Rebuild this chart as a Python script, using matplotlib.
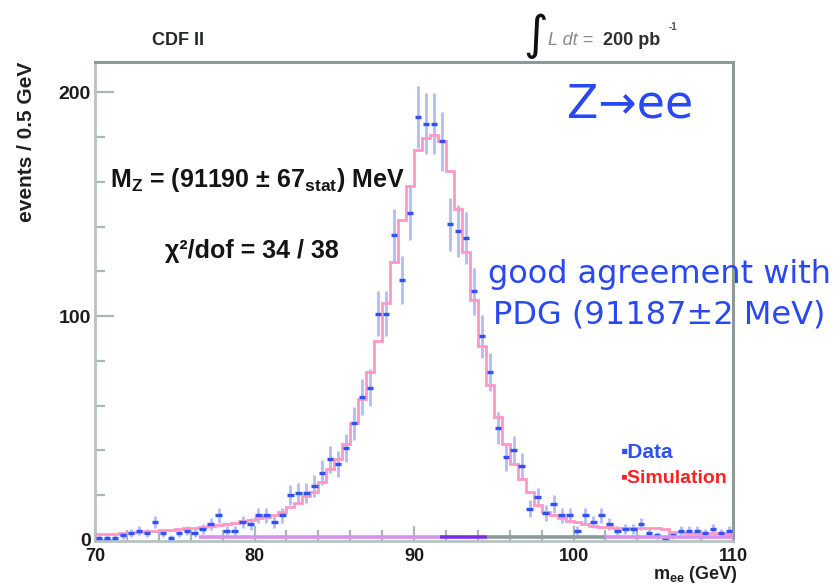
import numpy as np
import matplotlib
matplotlib.use("Agg")
import matplotlib.pyplot as plt
from matplotlib.ticker import MultipleLocator

# --- data (0.5 GeV bins, 70-110 GeV) ---
mass_edges = np.linspace(70.0, 110.0, 81)

sim_counts = [2.5, 2.7, 2.8, 3.0, 3.2, 3.5, 3.8, 4.0, 4.2, 4.4,
              4.8, 5.2, 5.5, 5.8, 6.2, 6.6, 7.0, 7.6, 8.3, 9.0,
              9.6, 10.3, 11.2, 12.5, 14.7, 16.5, 19.6, 21.4, 25.9, 31.7,
              36, 43, 52, 63, 75, 89, 106, 124, 143, 158,
              174, 179.5, 181, 178, 165, 148, 128.6, 107, 86.6, 69,
              55, 43, 34, 27, 21.4, 15.6, 12.5, 11, 9.8, 8.5,
              8.0, 7.0, 6.3, 5.8, 5.6, 5.5, 5.4, 5.4, 5.3, 5.2,
              5.1, 5.0, 3.4, 3.3, 3.2, 3.1, 3.0, 3.0, 2.9, 2.8]

data_counts = [1, 1, 1, 2, 3, 4, 3, 8, 3, 1,
               3, 4, 3, 5, 7, 11, 4, 4, 8, 7,
               11, 11, 8, 11, 20, 21, 21, 24, 30, 36,
               34, 41, 52, 64, 68, 101, 101, 136, 116, 146,
               189, 186, 186, 178, 141, 138, 135, 111, 91, 75,
               50, 37, 40, 33, 14, 19, 12, 16, 11, 11,
               4, 11, 8, 11, 7, 4, 5, 5, 7, 3,
               2, 1, 2, 4, 4, 4, 3, 5, 3, 4]

# coloured strip along the bottom edge of the frame
strip_edges = [76.5, 91.6, 94.6, 102.0, 110.0]
strip_colors = ["#d890ee", "#7a2ee0", "#8c9a98", "#d890ee"]

BLUE = "#2a48f2"
W, H = 836, 584


def fpos(x, y):
    return x / W, 1 - y / H


plt.rcParams["font.family"] = ["Liberation Sans", "DejaVu Sans"]
plt.rcParams["mathtext.fontset"] = "custom"
plt.rcParams["mathtext.rm"] = "Liberation Sans:bold"
plt.rcParams["mathtext.it"] = "Liberation Sans:bold:italic"
plt.rcParams["mathtext.bf"] = "Liberation Sans:bold"

fig = plt.figure(figsize=(W / 100, H / 100), dpi=100)
ax = fig.add_axes([95 / W, 1 - 541 / H, (733 - 95) / W, (541 - 62) / H])

centers = 0.5 * (mass_edges[:-1] + mass_edges[1:])
counts = np.array(data_counts, dtype=float)

# simulation histogram
ax.stairs(sim_counts, mass_edges, color="#ff98c6", lw=2.0, zorder=3)

# data with poisson errors
ax.errorbar(centers, counts, yerr=np.sqrt(counts), fmt="none",
            ecolor="#b6baf6", elinewidth=2.0, capsize=0, zorder=2)
ax.errorbar(centers, counts, xerr=0.2, fmt="none",
            ecolor="#2f52f0", elinewidth=2.4, capsize=0, zorder=4)

for (a, b), c in zip(zip(strip_edges[:-1], strip_edges[1:]), strip_colors):
    ax.plot([a, b], [1.4, 1.4], color=c, lw=2.6, solid_capstyle="butt", zorder=5)

ax.set_xlim(70, 110)
ax.set_ylim(-0.5, 213.5)

ax.xaxis.set_major_locator(MultipleLocator(10))
ax.xaxis.set_minor_locator(MultipleLocator(2))
ax.yaxis.set_major_locator(MultipleLocator(100))
ax.yaxis.set_minor_locator(MultipleLocator(20))
ax.tick_params(which="both", direction="in", color="#a8b8b8", width=1.6,
               top=False, right=False)
ax.tick_params(axis="y", which="major", length=14, pad=3, labelsize=14)
ax.tick_params(axis="y", which="minor", length=7)
ax.tick_params(axis="x", which="major", length=11, pad=5, labelsize=13)
ax.tick_params(axis="x", which="minor", length=8)
for lab in ax.get_xticklabels() + ax.get_yticklabels():
    lab.set_fontweight("bold")
    lab.set_color("#1c1c1c")

for side in ["top", "right"]:
    ax.spines[side].set_color("#8c9a98")
    ax.spines[side].set_linewidth(2.2)
for side in ["left", "bottom"]:
    ax.spines[side].set_color("#b4c4c4")
    ax.spines[side].set_linewidth(2.0)

# axis titles
fig.text(*fpos(27, 62), "events / 0.5 GeV", rotation=90, ha="center", va="top",
         fontsize=15, fontweight="bold", color="#202020")
fig.text(*fpos(738, 579), r"m$\mathrm{_{ee}}$ (GeV)", ha="right", va="baseline",
         fontsize=13, fontweight="bold", color="#202020")

# header
fig.text(*fpos(152, 45), "CDF II", ha="left", va="baseline",
         fontsize=13, fontweight="bold", color="#202828")
fig.text(*fpos(536, 36), "\u222b", ha="center", va="center", fontsize=34,
         family=["DejaVu Sans"], color="#101010")
fig.text(*fpos(548, 45), "L dt =", ha="left", va="baseline", fontsize=13,
         style="italic", color="#8a8a8a")
fig.text(*fpos(603, 45), "200 pb", ha="left", va="baseline", fontsize=13,
         fontweight="bold", color="#303030")
fig.text(*fpos(669, 30), "-1", ha="left", va="baseline", fontsize=7,
         fontweight="bold", color="#505050")

# fit results
fig.text(*fpos(110, 187), r"M$\mathrm{_Z}$ = (91190 ± 67$\mathrm{_{stat}}$) MeV",
         ha="left", va="baseline", fontsize=18, fontweight="bold", color="#141414")
fig.text(*fpos(165, 258), "χ²/dof = 34 / 38", ha="left", va="baseline",
         fontsize=18, fontweight="bold", color="#141414")

# slide annotations
fig.text(*fpos(567, 118), "Z\u2192ee", ha="left", va="baseline",
         fontsize=33, family=["DejaVu Sans"], color=BLUE)
fig.text(*fpos(659, 283), "good agreement with", ha="center", va="baseline",
         fontsize=23, family=["DejaVu Sans"], color=BLUE)
fig.text(*fpos(659, 323), "PDG (91187±2 MeV)", ha="center", va="baseline",
         fontsize=23, family=["DejaVu Sans"], color=BLUE)

# legend
fig.text(*fpos(621, 458), "\u25aaData", ha="left", va="baseline",
         fontsize=15, fontweight="bold", color="#3050f0")
fig.text(*fpos(621, 483), "\u25aaSimulation", ha="left", va="baseline",
         fontsize=14, fontweight="bold", color="#ff2020")

fig.savefig("out.png", dpi=100)
